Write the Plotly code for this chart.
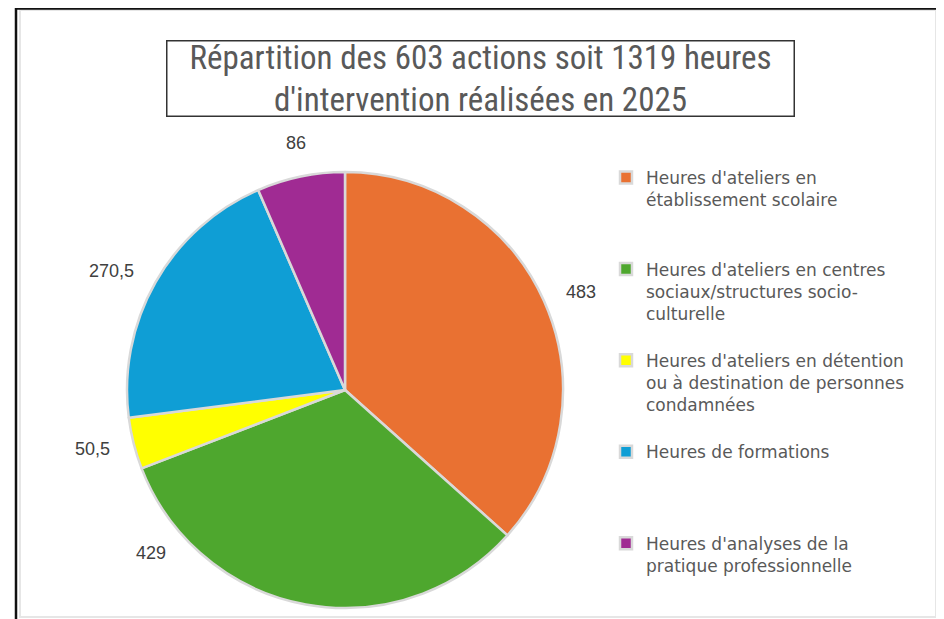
import math
import plotly.graph_objects as go

categories = [
    "Heures d'ateliers en<br>établissement scolaire",
    "Heures d'ateliers en centres<br>sociaux/structures socio-<br>culturelle",
    "Heures d'ateliers en détention<br>ou à destination de personnes<br>condamnées",
    "Heures de formations",
    "Heures d'analyses de la<br>pratique professionnelle",
]
values = [483, 429, 50.5, 270.5, 86]
colors = ["#E97132", "#4EA72E", "#FFFF00", "#0F9ED5", "#A02B93"]
pad_lines = [2, 1, 1, 3, 1]

# Figure size (the page has an 8px body margin inside the 944x619 window)
W, H = 936, 611
# Pie geometry in figure pixels
CX, CY, R = 337, 382, 218

labels = [c + "<br> " * p for c, p in zip(categories, pad_lines)]


def fmt(v):
    s = ("%g" % v)
    return s.replace(".", ",")


fig = go.Figure()
fig.add_trace(go.Pie(
    labels=labels,
    values=values,
    sort=False,
    direction="clockwise",
    rotation=0,
    marker=dict(colors=colors, line=dict(color="#D9D9D9", width=2.5)),
    textinfo="none",
    domain=dict(x=[(CX - R) / W, (CX + R) / W], y=[1 - (CY + R) / H, 1 - (CY - R) / H]),
    hoverinfo="label+value",
))

# Data labels placed outside each slice at its mid-angle (best-fit inside the chart area)
annotations = []
total = sum(values)
cum = 0.0
offset = 22
for v in values:
    a0 = cum / total * 360
    a1 = (cum + v) / total * 360
    cum += v
    th = (a0 + a1) / 2
    rr = R + offset

    def pos(t):
        return CX + rr * math.sin(math.radians(t)), CY - rr * math.cos(math.radians(t))

    x, y = pos(th)
    step = 1 if th > 180 else -1
    while y > H - 66 and a0 <= th + step <= a1:
        th += step
        x, y = pos(th)
    s, c = math.sin(math.radians(th)), math.cos(math.radians(th))
    xa = "left" if s > 0.3 else ("right" if s < -0.3 else "center")
    ya = "bottom" if c > 0.7 else ("top" if c < -0.7 else "middle")
    annotations.append(dict(
        text=fmt(v), x=x / W, y=1 - y / H, xref="paper", yref="paper",
        xanchor=xa, yanchor=ya, showarrow=False,
        font=dict(family="Liberation Sans, Arial, sans-serif", size=18, color="#404040"),
    ))

annotations.append(dict(
    text="Répartition des 603 actions soit 1319 heures<br>d'intervention réalisées en 2025",
    x=472 / W, y=1 - 70.5 / H, xref="paper", yref="paper",
    xanchor="center", yanchor="middle",
    showarrow=False,
    font=dict(family="Roboto Condensed, Liberation Sans Narrow, Arial Narrow, Liberation Sans, sans-serif",
              size=33, color="#595959"),
    bordercolor="#333333", borderwidth=1.5, borderpad=0,
    width=626, height=74,
    bgcolor="white",
))


def px(x):
    return x / W


def py(y):
    return 1 - y / H


shapes = [
    # inner light frame
    dict(type="rect", xref="paper", yref="paper", x0=px(12), x1=px(928), y0=py(609), y1=py(2),
         line=dict(color="#E6E6E6", width=2), layer="below"),
    # outer dark frame (top, left, right)
    dict(type="line", xref="paper", yref="paper", x0=px(8), x1=px(932), y0=py(0.5), y1=py(0.5),
         line=dict(color="#111111", width=2.5)),
    dict(type="line", xref="paper", yref="paper", x0=px(8), x1=px(8), y0=py(0), y1=py(H),
         line=dict(color="#111111", width=2.5)),
    dict(type="line", xref="paper", yref="paper", x0=px(932), x1=px(932), y0=py(0), y1=py(H),
         line=dict(color="#111111", width=2.5)),
]

fig.update_layout(
    width=W, height=H,
    margin=dict(l=0, r=0, t=0, b=0),
    paper_bgcolor="white",
    plot_bgcolor="white",
    showlegend=True,
    legend=dict(
        x=598 / W, y=1 - 152 / H, xanchor="left", yanchor="top",
        font=dict(family="DejaVu Sans, Liberation Sans, sans-serif", size=17, color="#595959"),
        valign="top",
        bgcolor="rgba(0,0,0,0)",
    ),
    annotations=annotations,
    shapes=shapes,
)

fig.write_html("out.html")
